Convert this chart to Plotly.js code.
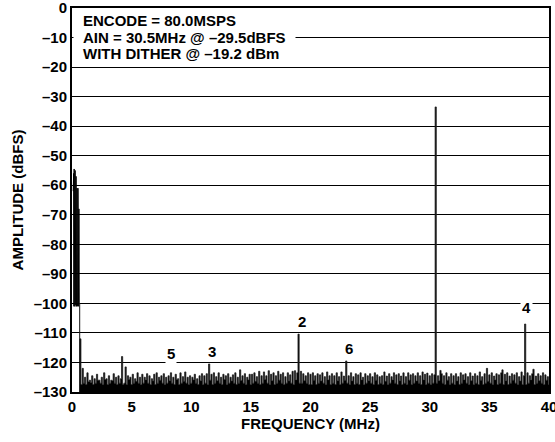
<!DOCTYPE html>
<html>
<head>
<meta charset="utf-8">
<script src="https://cdn.plot.ly/plotly-3.0.1.min.js"></script>
<style>
html,body{margin:0;padding:0;background:#fff;}
#chart{width:555px;height:442px;}
</style>
</head>
<body>
<div id="chart"></div>
<script>
// Tick values and labels
const xTickVals = [0, 5, 10, 15, 20, 25, 30, 35, 40];
const xTickText = ["0", "5", "10", "15", "20", "25", "30", "35", "40"];
const yTickVals = [0, -10, -20, -30, -40, -50, -60, -70, -80, -90, -100, -110, -120, -130];
const yTickText = ["0", "–10", "–20", "–30", "–40", "–50", "–60", "–70", "–80", "–90", "–100", "–110", "–120", "–130"];
const yMin = -130, yMax = 0, xMin = 0, xMax = 40;

// Dither region: 0.10 MHz .. 0.60 MHz, step 0.02 MHz (dBFS)
const ditherStart = 0.10, ditherStep = 0.02;
const ditherAmp = [-62, -100, -56, -101, -54.5, -100, -58, -101, -55, -100,
  -60, -100.5, -57, -101, -62, -100, -61, -101, -64, -100,
  -61, -100.5, -66, -101, -68, -100];

// Spectrum: 0.6 MHz .. 40.0 MHz, step 0.1 MHz (dBFS)
const specStart = 0.6, specStep = 0.1;
const specAmp = [
  -100, -112, -127.5, -122,
  -127, -125, -127.5, -123.5, -126.5, -126, -126.8, -124.5, -127.5, -125.5,
  -127, -124, -126, -126, -127, -125, -127.5, -123.5, -125.8, -125.5,
  -127.5, -124.5, -127, -126, -126.2, -123.8, -127, -125, -127.5, -124.5,
  -127, -125.5, -118, -127.5, -127, -121.5, -127.5, -124.5, -125.8, -125,
  -127.5, -124, -127, -125.5, -126.4, -123.5, -127, -125, -127.5, -124,
  -127, -125, -125.9, -123.8, -127, -124.5, -127.5, -125.5, -126.3, -124,
  -127.5, -123.5, -127, -125, -126, -124.5, -127, -123.8, -127.5, -125,
  -127, -124.5, -126.2, -123.5, -127, -125, -127.5, -124, -125.8, -125.5,
  -127.5, -123.5, -127, -124.8, -126.4, -123.2, -127, -125, -127.5, -124.5,
  -127, -125, -125.9, -124, -127, -125.5, -127.5, -124.5, -126.2, -123.8,
  -127.5, -124.5, -127, -123.8, -127.5, -120.5, -126, -124, -127.5, -123.5,
  -127, -124.8, -126.2, -123.5, -127, -125, -127.5, -124, -125.8, -124.5,
  -127.5, -123.8, -127, -125, -126.3, -124.2, -127, -123.5, -127.5, -125,
  -127, -122.5, -126.1, -124.5, -127, -123.8, -127.5, -125, -125.9, -124,
  -127.5, -124, -127, -123.5, -126.4, -124.8, -127, -123, -127.5, -124.5,
  -127, -123.2, -125.8, -124.5, -127, -122.8, -127.5, -124, -126.2, -123.5,
  -127.5, -124.5, -127, -123, -126, -124, -127, -123.5, -127.5, -124.8,
  -127, -123.5, -126.3, -124.2, -127, -123, -127.5, -122.8, -125.9, -123.5,
  -110.4, -127, -123, -127, -123.8, -126.2, -124.5, -127, -123.5, -127.5,
  -124, -127.5, -123.5, -126, -124.5, -127.5, -123.8, -127, -124.2, -126.3,
  -123.5, -127, -124.8, -127.5, -123.2, -125.9, -124.5, -127.5, -123.8, -127,
  -124.5, -127.5, -123.5, -126.2, -124.8, -127.5, -123.2, -127, -124.6, -126,
  -119.5, -127, -124.5, -127.5, -123.5, -126.3, -124.8, -127.5, -123.8, -127,
  -124.2, -127.5, -123.5, -125.9, -125, -127.5, -123.8, -127, -124.5, -126.2,
  -123.8, -127, -124.8, -127.5, -123.5, -126, -124.2, -127.5, -124.8, -127,
  -124.5, -127.5, -123.2, -126.4, -124.6, -127.5, -123.8, -127, -124.8, -125.9,
  -123.5, -127, -124.2, -127.5, -123.8, -126.2, -124.6, -127.5, -123.5, -127,
  -124.8, -127.5, -123.5, -126, -124.2, -127.5, -123.8, -127, -124.5, -126.3,
  -123.5, -127, -124.5, -127.5, -123.2, -125.9, -124, -127.5, -123.6, -127,
  -124.5, -127.5, -123.8, -127, -124.2, -33.5, -127, -124.5, -126.2, -122.7,
  -123.8, -127, -124.5, -127.5, -123.5, -126, -124.8, -127.5, -123.8, -127,
  -124.5, -127.5, -123.8, -126.3, -124.8, -127.5, -123.5, -127, -124.2, -125.9,
  -123.8, -127, -124.8, -127.5, -123.5, -126.2, -124.6, -127.5, -123.8, -127,
  -124.5, -127.5, -123.2, -126, -124.8, -127.5, -123.8, -127, -122, -126.4,
  -124.2, -127, -123.5, -127.5, -124.6, -125.9, -123.8, -127.5, -124.2, -127,
  -123.5, -122.5, -127.5, -124, -126.2, -123.5, -127.5, -124.6, -127, -123.8,
  -126, -124.2, -127, -123.5, -127.5, -124.8, -126.3, -123.2, -127.5, -124.5,
  -107, -127.5, -123.5, -127, -124.5, -125.9, -123.8, -122.3, -127.5, -124.6,
  -127, -123.8, -126.2, -124.5, -127, -123.5, -127.5, -124.2, -126, -124.8,
  -127.5
];

// Harmonic labels
const harmLabels = ["2", "3", "4", "5", "6"];
const harmLabelX = [19.25, 11.7, 38.1, 8.3, 23.2];
const harmLabelY = [-106.2, -116.4, -101.4, -116.8, -115.3];

// Header text lines
const headerLines = ["AIN = 30.5MHz @ –29.5dBFS", "ENCODE = 80.0MSPS", "WITH DITHER @ –19.2 dBm"];
const headerY = [-9.9, -4.1, -15.4];

const FONT = "Liberation Sans, Arial, Helvetica, sans-serif";

// floor reference for the filled noise band (the axis bottom)
const specEnd = specStart + specStep * (specAmp.length - 1);

const traces = [
  {
    type: "scatter", mode: "lines",
    x0: ditherStart, dx: ditherStep, y: ditherAmp,
    line: {color: "#000", width: 1},
    hoverinfo: "skip", showlegend: false
  },
  {
    type: "scatter", mode: "lines",
    x: [specStart, specEnd], y: [yMin, yMin],
    line: {color: "#000", width: 0},
    hoverinfo: "skip", showlegend: false
  },
  {
    type: "scatter", mode: "lines",
    x0: specStart, dx: specStep, y: specAmp,
    line: {color: "#222", width: 0.8, shape: "hvh"},
    fill: "tonexty", fillcolor: "#000",
    hoverinfo: "skip", showlegend: false
  }
];

const annotations = [];
headerLines.forEach((t, i) => {
  annotations.push({
    xref: "x", yref: "y", x: 0.84, y: headerY[i],
    xanchor: "left", yanchor: "middle",
    xshift: i === 0 ? -9 : 0,
    text: t, showarrow: false, align: "left",
    font: {family: FONT, size: 15, color: "#000", weight: "bold"},
    bgcolor: i === 0 ? "#fff" : "rgba(0,0,0,0)",
    borderpad: i === 0 ? 9 : 0
  });
});
harmLabels.forEach((t, i) => {
  annotations.push({
    xref: "x", yref: "y", x: harmLabelX[i], y: harmLabelY[i],
    xanchor: "center", yanchor: "middle",
    text: t, showarrow: false,
    font: {family: FONT, size: 15, color: "#000", weight: "bold"},
    bgcolor: "#fff", borderpad: 1
  });
});

const layout = {
  width: 555, height: 442,
  margin: {l: 72, r: 6, t: 8, b: 50, pad: 0},
  paper_bgcolor: "#fff", plot_bgcolor: "#fff",
  font: {family: FONT, size: 15, color: "#000", weight: "bold"},
  showlegend: false,
  xaxis: {
    range: [xMin, xMax + 0.0001], tickmode: "array", tickvals: xTickVals, ticktext: xTickText,
    showgrid: false, zeroline: false, showline: true, mirror: true,
    linecolor: "#000", linewidth: 2, ticks: "", ticklabeloverflow: "allow",
    tickfont: {family: FONT, size: 15, color: "#000", weight: "bold"},
    title: {text: "FREQUENCY (MHz)", standoff: 0,
      font: {family: FONT, size: 15, color: "#000", weight: "bold"}},
    fixedrange: true
  },
  yaxis: {
    range: [yMin, yMax + 0.0001], tickmode: "array", tickvals: yTickVals, ticktext: yTickText,
    showgrid: true, gridcolor: "#000", gridwidth: 1,
    zeroline: false, showline: true, mirror: true,
    linecolor: "#000", linewidth: 2, ticks: "", ticklabeloverflow: "allow",
    tickfont: {family: FONT, size: 15, color: "#000", weight: "bold"},
    title: {text: "AMPLITUDE (dBFS)", standoff: 6,
      font: {family: FONT, size: 15, color: "#000", weight: "bold"}},
    fixedrange: true
  },
  annotations: annotations
};

Plotly.newPlot("chart", traces, layout, {staticPlot: true, displayModeBar: false});
</script>
</body>
</html>
